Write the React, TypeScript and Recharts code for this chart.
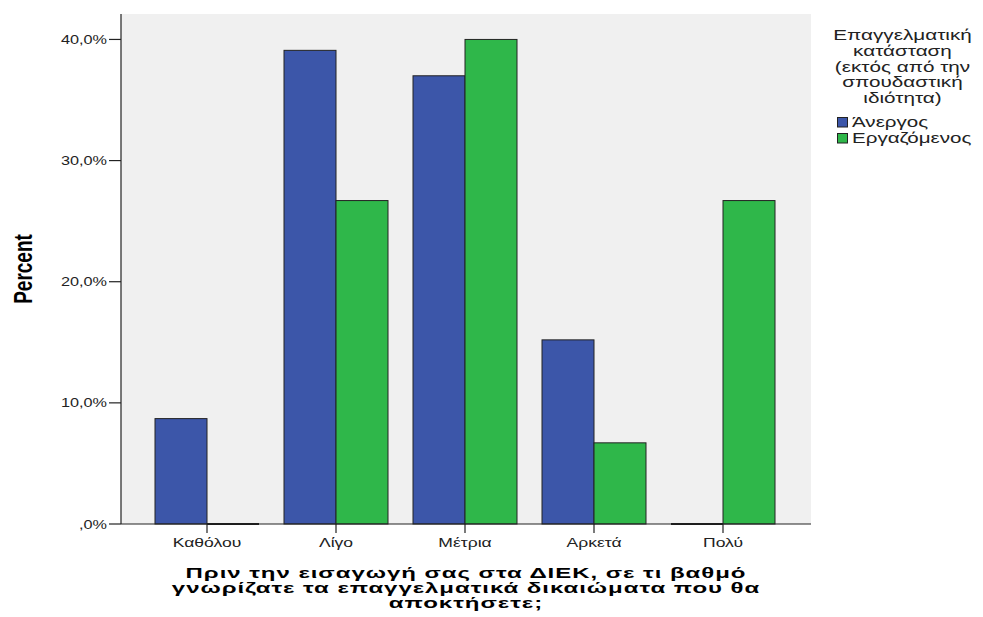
import React from 'react';
import { BarChart, Bar, XAxis, YAxis, CartesianGrid, Legend, Label } from 'recharts';

const categories = ['Καθόλου', 'Λίγο', 'Μέτρια', 'Αρκετά', 'Πολύ'];
const unemployed = [8.7, 39.1, 37.0, 15.2, 0];
const employed = [0, 26.7, 40.0, 6.7, 26.7];
const yTicks = [0, 10, 20, 30, 40];
const seriesNames = ['Άνεργος', 'Εργαζόμενος'];
const seriesColors = ['#3C56A9', '#2FB74A'];
const legendTitleLines = ['Επαγγελματική', 'κατάσταση', '(εκτός από την', 'σπουδαστική', 'ιδιότητα)'];
const xTitleLines = [
  'Πριν την εισαγωγή σας στα ΔΙΕΚ, σε τι βαθμό',
  'γνωρίζατε τα επαγγελματικά δικαιώματα που θα',
  'αποκτήσετε;',
];
const yTitle = 'Percent';

const data = categories.map((c, i) => ({ category: c, unemployed: unemployed[i], employed: employed[i] }));

const FONT = '"Liberation Sans", Arial, sans-serif';
const SX = 1.35;

const fmtPct = (v: number) => (v === 0 ? ',0%' : v.toFixed(1).replace('.', ',') + '%');

const BarShape = (props: any) => {
  const { x, y, width, height, fill } = props;
  if (!height || Math.abs(height) < 0.5) {
    return <line x1={x} x2={x + width} y1={y} y2={y} stroke="#1a1a1a" strokeWidth={2} />;
  }
  return <rect x={x} y={y} width={width} height={height} fill={fill} stroke="#222" strokeWidth={1} />;
};

const XTick = (props: any) => {
  const { x, y, payload } = props;
  return (
    <text transform={`translate(${x},${y + 12}) scale(${SX},1)`} textAnchor="middle" fontFamily={FONT} fontSize={13} fill="#222">
      {payload.value}
    </text>
  );
};

const YTick = (props: any) => {
  const { x, y, payload } = props;
  return (
    <text transform={`translate(${x},${y + 4.5}) scale(1.25,1)`} textAnchor="end" fontFamily={FONT} fontSize={13} fill="#222">
      {fmtPct(payload.value)}
    </text>
  );
};

const XTitle = (props: any) => {
  const vb = props.viewBox || {};
  const cx = vb.x + vb.width / 2;
  const base = [53.7, 68.7, 83.5];
  return (
    <g>
      {xTitleLines.map((t, i) => (
        <text
          key={i}
          transform={`translate(${cx},${vb.y + base[i]}) scale(1.6,1)`}
          textAnchor="middle"
          fontFamily={FONT}
          fontSize={15}
          fontWeight="bold"
          letterSpacing={0.6}
          fill="#000"
        >
          {t}
        </text>
      ))}
    </g>
  );
};

const YTitle = (props: any) => {
  const vb = props.viewBox || {};
  const cy = vb.y + vb.height / 2;
  return (
    <text
      transform={`translate(${vb.x + 32},${cy}) scale(${SX},1) rotate(-90)`}
      textAnchor="middle"
      fontFamily={FONT}
      fontSize={19}
      fontWeight="bold"
      fill="#000"
    >
      {yTitle}
    </text>
  );
};

const LegendContent = (props: any) => {
  const payload = props.payload || [];
  const titleBase = [26, 41.7, 57.5, 73, 88.5];
  return (
    <svg width={171} height={140} style={{ display: 'block' }}>
      {legendTitleLines.map((t, i) => (
        <text
          key={i}
          transform={`translate(90.5,${titleBase[i]}) scale(1.38,1)`}
          textAnchor="middle"
          fontFamily={FONT}
          fontSize={15}
          fill="#222"
        >
          {t}
        </text>
      ))}
      {payload.map((p: any, i: number) => (
        <g key={i}>
          <rect x={25.5} y={103.5 + i * 16} width={10} height={9.5} fill={p.color} stroke="#222" strokeWidth={1} />
          <text
            transform={`translate(40,${113 + i * 16}) scale(1.42,1)`}
            fontFamily={FONT}
            fontSize={14.5}
            fill="#222"
          >
            {p.value}
          </text>
        </g>
      ))}
    </svg>
  );
};

export default function App() {
  return (
    <div style={{ position: 'absolute', left: 0, top: 0, width: 983, height: 617, background: '#fff' }}>
      <BarChart
        width={983}
        height={617}
        data={data}
        margin={{ top: 14, right: 172, bottom: 0, left: 0 }}
        barCategoryGap={12.5}
        barGap={0}
      >
        <CartesianGrid fill="#F0F0F0" horizontal={false} vertical={false} />
        <XAxis
          dataKey="category"
          xAxisId="main"
          height={93}
          padding={{ left: 21.5, right: 23.5 }}
          axisLine={{ stroke: '#222', strokeWidth: 1.2 }}
          tickLine={{ stroke: '#222', strokeWidth: 1.2 }}
          tickSize={9}
          tick={<XTick />}
          interval={0}
        >
          <Label content={<XTitle />} />
        </XAxis>
        <XAxis xAxisId="top" orientation="top" height={0} tick={false} tickLine={false} axisLine={{ stroke: '#666', strokeWidth: 1.2 }} />
        <YAxis
          yAxisId="main"
          width={121}
          domain={[0, 42.1]}
          ticks={yTicks}
          axisLine={{ stroke: '#222', strokeWidth: 1.2 }}
          tickLine={{ stroke: '#222', strokeWidth: 1.2 }}
          tickSize={12}
          tick={<YTick />}
        >
          <Label content={<YTitle />} />
        </YAxis>
        <YAxis yAxisId="right" orientation="right" width={0} tick={false} tickLine={false} axisLine={{ stroke: '#666', strokeWidth: 1.2 }} />
        <Legend
          layout="horizontal"
          verticalAlign="middle"
          align="center"
          wrapperStyle={{ left: 812, top: 14, width: 171, height: 140 }}
          content={<LegendContent />}
        />
        <Bar
          dataKey="unemployed"
          name={seriesNames[0]}
          fill={seriesColors[0]}
          xAxisId="main"
          yAxisId="main"
          shape={<BarShape />}
          isAnimationActive={false}
        />
        <Bar
          dataKey="employed"
          name={seriesNames[1]}
          fill={seriesColors[1]}
          xAxisId="main"
          yAxisId="main"
          shape={<BarShape />}
          isAnimationActive={false}
        />
      </BarChart>
    </div>
  );
}
